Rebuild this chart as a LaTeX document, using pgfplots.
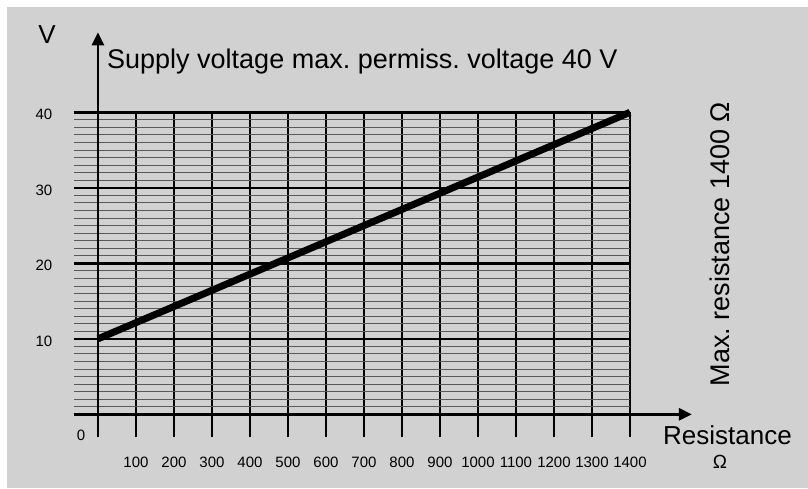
\documentclass[border=0pt]{standalone}
\usepackage{pgfplots}
\pgfplotsset{compat=1.18}
\usetikzlibrary{arrows.meta}
\usepackage{fontspec}
\setmainfont{Liberation Sans}
\definecolor{bg}{gray}{0.82}
\frenchspacing
\begin{document}
\begin{tikzpicture}
% background (picture coords: x = px-74, y = 437-py)
\fill[white] (-74pt,-51pt) rectangle (734pt,437pt);
\fill[bg] (-67pt,-51pt) rectangle (734pt,430pt);
\begin{axis}[
  at={(0pt,0pt)}, anchor=south west,
  x=0.38pt, y=7.55pt,
  xmin=-63, xmax=1400, ymin=-3, ymax=40,
  clip=false,
  axis line style={draw=none},
  tick style={draw=none},
  major tick length=0pt, minor tick length=0pt,
  xtick={0,100,...,1400},
  xticklabels={,100,200,300,400,500,600,700,800,900,1000,1100,1200,1300,1400},
  ytick={0,10,20,30,40},
  yticklabels={,10,20,30,40},
  minor ytick={1,2,...,39},
  xmajorgrids, ymajorgrids, yminorgrids,
  major grid style={black, line width=2.6pt},
  minor grid style={black!65, line width=1.0pt},
  /pgf/number format/assume math mode=true,
  xticklabel style={font=\fontsize{15}{15}\selectfont, anchor=center, yshift=-25pt, inner sep=0pt},
  yticklabel style={font=\fontsize{15}{15}\selectfont, anchor=center, xshift=-30pt, yshift=-2pt, inner sep=0pt},
]
\addplot[black, line width=7pt, line cap=butt] coordinates {(0,10) (1400,40)};
\draw[black, line width=2.8pt, -{Triangle[length=13pt,width=12pt]}] (axis cs:0,-3) -- (axis cs:0,50.6);
\draw[black, line width=2.8pt, -{Triangle[length=13pt,width=12pt]}] (axis cs:-63,0) -- (axis cs:1563,0);
\end{axis}
\node[font=\fontsize{26}{26}\selectfont, inner sep=0pt] at (-27pt,402pt) {V};
\node[font=\fontsize{27}{27}\selectfont, inner sep=0pt, anchor=west] at (33pt,375pt) {Supply voltage max. permiss. voltage 40 V};
\node[font=\fontsize{15}{15}\selectfont, inner sep=0pt] at (7pt,2pt) {0};
\node[font=\fontsize{26}{26}\selectfont, inner sep=0pt, anchor=west] at (589pt,2pt) {Resistance};
\node[font=\fontsize{19}{19}\selectfont, inner sep=0pt] at (646pt,-25pt) {Ω};
\node[font=\fontsize{27}{27}\selectfont, inner sep=0pt, rotate=90] at (646pt,193pt) {Max. resistance 1400 Ω};
\pgfresetboundingbox
\useasboundingbox (-74pt,-51pt) rectangle (734pt,437pt);
\end{tikzpicture}
\end{document}
